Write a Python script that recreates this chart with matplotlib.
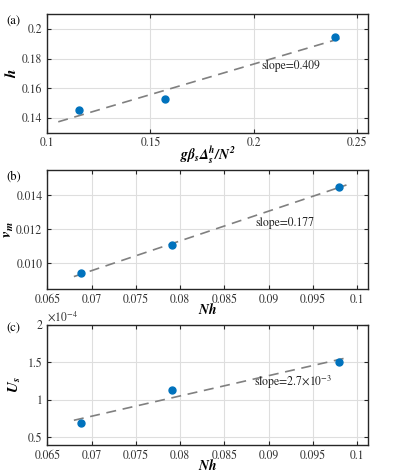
import numpy as np
import matplotlib
matplotlib.use("Agg")
import matplotlib.pyplot as plt
from matplotlib.ticker import FuncFormatter

plt.rcParams['font.family'] = ['STIXGeneral', 'Liberation Serif', 'DejaVu Serif']
plt.rcParams['mathtext.fontset'] = 'stix'
plt.rcParams['font.size'] = 8.5

# Data
gbeta = [0.1153, 0.1570, 0.2393]
h_vals = [0.1454, 0.1526, 0.1944]
Nh = [0.0688, 0.0791, 0.0979]
v_m = [0.00941, 0.01110, 0.01447]
U_s = [0.686e-4, 1.128e-4, 1.500e-4]

# extent of the fitted lines
fit_a = [0.1053, 0.2433]
fit_b = [0.0680, 0.0988]
fit_c = [0.0680, 0.0992]

blue = '#0072BD'
edge = '#262626'

fig = plt.figure(figsize=(3.99, 4.73), dpi=100)
ax_a = fig.add_axes([0.1186, 0.7195, 0.803, 0.2509])
ax_b = fig.add_axes([0.1186, 0.3890, 0.803, 0.2522])
ax_c = fig.add_axes([0.1186, 0.0592, 0.803, 0.2543])


def style(ax):
    ax.grid(True, color='#dedede', linewidth=0.8)
    ax.set_axisbelow(True)
    for s in ax.spines.values():
        s.set_color(edge)
        s.set_linewidth(1.0)
    ax.tick_params(direction='in', top=True, right=True, length=3,
                   color=edge, labelsize=8.5, labelcolor='#333333', width=0.8)


def fit_line(ax, x, y, xr):
    p = np.polyfit(x, y, 1)
    xr = np.array(xr)
    ax.plot(xr, np.polyval(p, xr), linestyle=(0, (6, 4)), color='#808080', lw=1.2, zorder=2)
    ax.plot(x, y, 'o', color=blue, ms=5, zorder=3)


nh_ticks = [0.065, 0.07, 0.075, 0.08, 0.085, 0.09, 0.095, 0.1]
nh_labels = ['0.065', '0.07', '0.075', '0.08', '0.085', '0.09', '0.095', '0.1']

# (a)
fit_line(ax_a, gbeta, h_vals, fit_a)
ax_a.set_xlim(0.1, 0.2553)
ax_a.set_ylim(0.13, 0.21)
ax_a.set_xticks([0.1, 0.15, 0.2, 0.25])
ax_a.set_xticklabels(['0.1', '0.15', '0.2', '0.25'])
ax_a.set_yticks([0.14, 0.16, 0.18, 0.2])
ax_a.set_yticklabels(['0.14', '0.16', '0.18', '0.2'])
ax_a.set_xlabel(r'$\mathbfit{g\beta_s\Delta_s^h/N^2}$', fontsize=10, va='center')
ax_a.xaxis.set_label_coords(0.5, -0.19)
ax_a.set_ylabel(r'$\mathbfit{h}$', fontsize=11, va='center')
ax_a.yaxis.set_label_coords(-0.112, 0.5)
ax_a.text(0.2038, 0.1732, 'slope=0.409', fontsize=8.5, color='#222222')
style(ax_a)

# (b)
fit_line(ax_b, Nh, v_m, fit_b)
ax_b.set_xlim(0.065, 0.1012)
ax_b.set_ylim(0.0085, 0.0155)
ax_b.set_xticks(nh_ticks)
ax_b.set_xticklabels(nh_labels)
ax_b.set_yticks([0.010, 0.012, 0.014])
ax_b.set_yticklabels(['0.010', '0.012', '0.014'])
ax_b.set_xlabel(r'$\mathbfit{Nh}$', fontsize=10, va='center')
ax_b.xaxis.set_label_coords(0.5, -0.175)
ax_b.set_ylabel(r'$\mathbfit{v_m}$', fontsize=11, va='center')
ax_b.yaxis.set_label_coords(-0.118, 0.5)
ax_b.text(0.0885, 0.0122, 'slope=0.177', fontsize=8.5, color='#222222')
style(ax_b)

# (c)
fit_line(ax_c, Nh, U_s, fit_c)
ax_c.set_xlim(0.065, 0.1012)
ax_c.set_ylim(0.4e-4, 2.0e-4)
ax_c.set_xticks(nh_ticks)
ax_c.set_xticklabels(nh_labels)
ax_c.set_yticks([0.5e-4, 1e-4, 1.5e-4, 2e-4])
ax_c.yaxis.set_major_formatter(FuncFormatter(lambda v, pos: f'{v / 1e-4:g}'))
ax_c.set_xlabel(r'$\mathbfit{Nh}$', fontsize=10, va='center')
ax_c.xaxis.set_label_coords(0.5, -0.172)
ax_c.set_ylabel(r'$\mathbfit{U_s}$', fontsize=11, va='center')
ax_c.yaxis.set_label_coords(-0.1, 0.5)
ax_c.text(0.0884, 1.18e-4, r'slope=2.7$\times$10$^{-3}$', fontsize=8.5, color='#222222')
ax_c.text(0.0, 1.005, r'$\times$10$^{-4}$', transform=ax_c.transAxes, fontsize=8.5,
          color='#333333', ha='left', va='bottom')
style(ax_c)

# panel labels
fig.text(0.015, 0.948, '(a)', fontsize=9)
fig.text(0.015, 0.620, '(b)', fontsize=9)
fig.text(0.015, 0.298, '(c)', fontsize=9)

fig.savefig('out.png', dpi=100)
